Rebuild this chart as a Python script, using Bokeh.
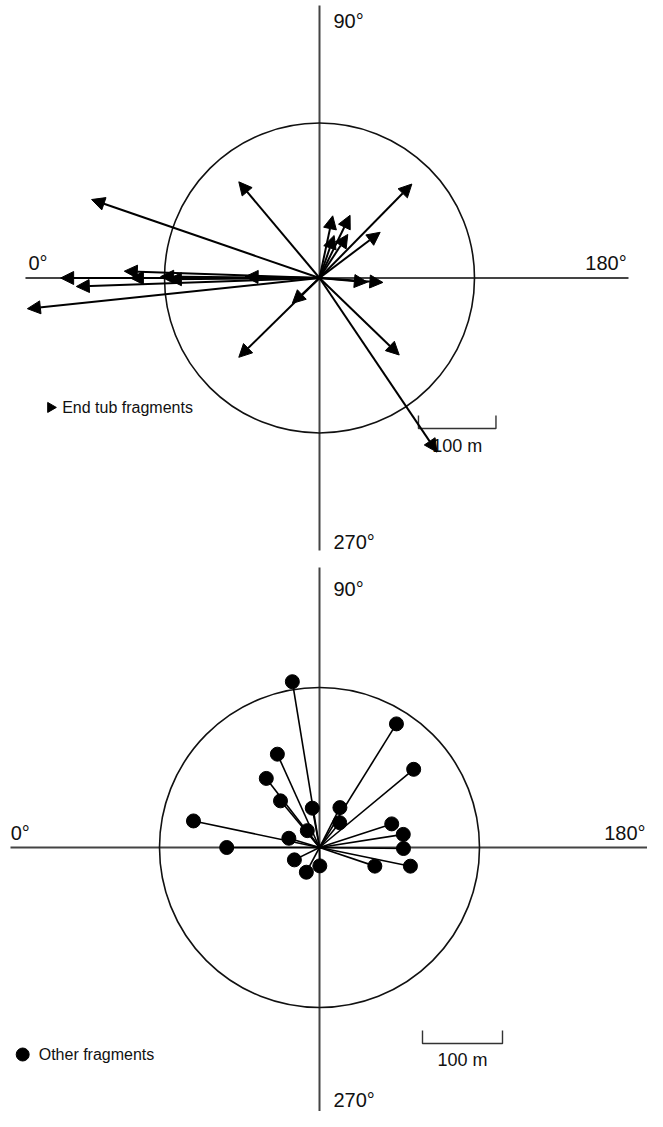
import numpy as np
from bokeh.plotting import figure
from bokeh.models import Range1d, Arrow, NormalHead, ColumnDataSource, Label
from bokeh.layouts import column
from bokeh.embed import file_html
from bokeh.resources import INLINE

# ---- data: direction (deg; 0 = left, 90 = up, 180 = right, 270 = down) and distance (m)
end_tub_direction = [19, 50, 0, 358, 2, 0, 0.5, 359.5, 1, 354,
                     134.5, 143, 102, 116, 109, 123, 185, 184, 317, 224, 236, 315.5]
end_tub_distance = [311, 162, 334, 314, 252, 244, 205, 195, 96, 379,
                    170, 98, 82, 90, 58, 67, 62, 82, 48, 143, 271, 146]

other_direction = [80.7, 121.9, 140.3, 65.7, 52.4, 50.1, 79.6, 117.1, 129.1, 54.1,
                   161.9, 171.1, 11.9, 16.8, 0, 180.7, 333.8, 269, 298, 198.6, 191.6]
other_distance = [210, 182, 153, 128, 109, 76, 50, 56, 40, 26,
                  95, 106, 161, 40, 116, 105, 35, 23, 35, 73, 116]

circle_radius_m = 200
scale_bar_m = 100
axis_labels = ["0°", "90°", "180°", "270°"]
legend_labels = ["End tub fragments", "Other fragments"]

FONT = "Liberation Sans"
W = 647


def to_xy(direction, distance):
    t = np.radians(np.asarray(direction, dtype=float))
    d = np.asarray(distance, dtype=float)
    return -d * np.cos(t), d * np.sin(t)


def base_fig(h, xr, yr):
    p = figure(width=W, height=h, x_range=Range1d(*xr), y_range=Range1d(*yr),
               output_backend="svg", toolbar_location=None, min_border=0)
    p.xaxis.visible = False
    p.yaxis.visible = False
    p.xgrid.visible = False
    p.ygrid.visible = False
    p.outline_line_color = None
    return p


def label(p, x, y, text, align="left", size="20px"):
    p.add_layout(Label(x=x, y=y, text=text, text_font=FONT, text_font_size=size,
                       text_align=align, text_baseline="middle", text_color="#111111"))


def decorate(p, hx, vy, r, labpos, aligns, bar_x0, bar_y, tick_h, bar_lbl_y):
    # axis cross
    p.segment(x0=[hx[0], 0], y0=[0, vy[0]], x1=[hx[1], 0], y1=[0, vy[1]],
              line_color="#444444", line_width=2)
    # reference circle
    p.circle(x=[0], y=[0], radius=r, fill_color=None, line_color="#111111", line_width=1.6)
    for (x, y), t, a in zip(labpos, axis_labels, aligns):
        label(p, x, y, t, align=a)
    # scale bar
    xs = [bar_x0, bar_x0, bar_x0 + scale_bar_m, bar_x0 + scale_bar_m]
    ys = [bar_y + tick_h, bar_y, bar_y, bar_y + tick_h]
    p.line(xs, ys, line_color="#333333", line_width=1.4)
    label(p, bar_x0 + scale_bar_m / 2, bar_lbl_y, f"{scale_bar_m} m", align="center", size="18px")


# ---------------- top panel: end tub fragments (arrows) ----------------
s1 = 0.775
H1 = 556
cx1, cy1 = 319, 277.5
p1 = base_fig(H1, (-cx1 / s1, (W - cx1) / s1), (-(H1 - cy1) / s1, cy1 / s1))
decorate(p1, (-379.4, 398.7), (351.6, -351.6), circle_radius_m,
         [(-375.5, 20), (18, 332), (343, 20), (18, -341)],
         ["left", "left", "left", "left"],
         127.7, -194.2, 16.8, -217)

ex, ey = to_xy(end_tub_direction, end_tub_distance)
src1 = ColumnDataSource(dict(x0=np.zeros(len(ex)), y0=np.zeros(len(ey)), x1=ex, y1=ey))
p1.add_layout(Arrow(x_start="x0", y_start="y0", x_end="x1", y_end="y1", source=src1,
                    line_color="black", line_width=2,
                    end=NormalHead(size=13, fill_color="black", line_color="black", line_width=1)))
p1.scatter(x=[-347], y=[-167], marker="triangle", size=10, angle=-np.pi / 2,
           fill_color="black", line_color="black")
label(p1, -332, -167, legend_labels[0], size="16px")

# ---------------- bottom panel: other fragments (dots) ----------------
s2 = 0.8
H2 = 555
cx2, cy2 = 319, 291
p2 = base_fig(H2, (-cx2 / s2, (W - cx2) / s2), (-(H2 - cy2) / s2, cy2 / s2))
decorate(p2, (-386.25, 420), (350, -400), circle_radius_m,
         [(-386, 18.75), (17.5, 323.75), ((W - 2 - cx2) / s2, 18.75), (17.5, -316)],
         ["left", "left", "right", "left"],
         128.75, -245, 16.25, -266)

ox, oy = to_xy(other_direction, other_distance)
p2.segment(x0=np.zeros(len(ox)), y0=np.zeros(len(oy)), x1=ox, y1=oy,
           line_color="black", line_width=1.6)
p2.scatter(x=ox, y=oy, size=14, fill_color="black", line_color="black")
p2.scatter(x=[-371], y=[-258.75], size=13, fill_color="black", line_color="black")
label(p2, -351, -258.75, legend_labels[1], size="16px")

layout = column(p1, p2, spacing=0)
open("out.html", "w").write(file_html(layout, INLINE))
